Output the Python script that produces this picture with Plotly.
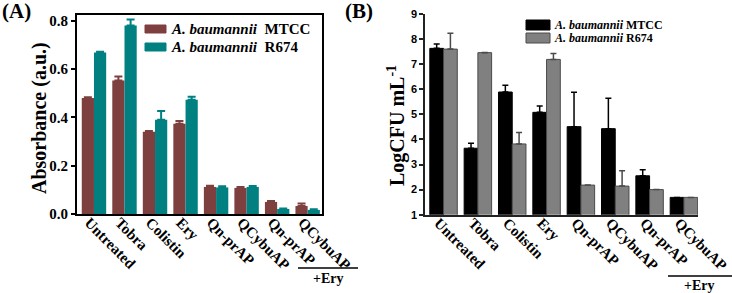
import plotly.graph_objects as go

# ---------------- data ----------------
categories = ["Untreated", "Tobra", "Colistin", "Ery", "Qn-prAP", "QCybuAP", "Qn-prAP", "QCybuAP"]
series_names = ["A. baumannii", "A. baumannii"]
strain_names = ["MTCC", "R674"]

# Panel A: absorbance (a.u.)
absorb_mtcc = [0.480, 0.553, 0.340, 0.373, 0.112, 0.108, 0.050, 0.033]
absorb_mtcc_err = [0.003, 0.016, 0.003, 0.012, 0.005, 0.004, 0.004, 0.010]
absorb_r674 = [0.668, 0.780, 0.390, 0.473, 0.110, 0.112, 0.021, 0.017]
absorb_r674_err = [0.004, 0.025, 0.036, 0.012, 0.005, 0.004, 0.002, 0.003]

# Panel B: LogCFU mL-1
cfu_mtcc = [7.63, 3.65, 5.89, 5.08, 4.51, 4.43, 2.55, 1.69]
cfu_mtcc_err = [0.17, 0.20, 0.27, 0.25, 1.37, 1.21, 0.24, 0.0]
cfu_r674 = [7.60, 7.46, 3.82, 7.19, 2.18, 2.14, 2.00, 1.69]
cfu_r674_err = [0.63, 0.01, 0.46, 0.24, 0.0, 0.61, 0.0, 0.0]

ticks_a = [0.0, 0.2, 0.4, 0.6, 0.8]
ticks_b = [1, 2, 3, 4, 5, 6, 7, 8, 9]
combo_label = "+Ery"

# ---------------- style ----------------
W, H = 732, 293
SERIF = "Liberation Serif, Times New Roman, serif"
SANS = "Liberation Sans, Arial, sans-serif"
BROWN = "#7e3f3f"
TEAL = "#008080"
BLACK = "#000000"
GRAY = "#808080"
GRAY_EDGE = "#4a4a4a"


def px(x):
    return x / W


def py(y):
    return 1 - y / H


xpos = list(range(len(categories)))

fig = go.Figure()

# Panel A bars
fig.add_trace(go.Bar(
    x=xpos, y=absorb_mtcc, name=f"{series_names[0]} {strain_names[0]}",
    marker=dict(color=BROWN, line=dict(width=0)),
    error_y=dict(type="data", array=absorb_mtcc_err, arrayminus=[0] * len(categories),
                 symmetric=False, color=BROWN, thickness=2, width=4),
    xaxis="x", yaxis="y", showlegend=False))
fig.add_trace(go.Bar(
    x=xpos, y=absorb_r674, name=f"{series_names[1]} {strain_names[1]}",
    marker=dict(color=TEAL, line=dict(width=0)),
    error_y=dict(type="data", array=absorb_r674_err, arrayminus=[0] * len(categories),
                 symmetric=False, color=TEAL, thickness=2, width=4),
    xaxis="x", yaxis="y", showlegend=False))

# Panel B bars
fig.add_trace(go.Bar(
    x=xpos, y=cfu_mtcc, name=f"{series_names[0]} {strain_names[0]}",
    marker=dict(color=BLACK, line=dict(width=1, color=BLACK)),
    error_y=dict(type="data", array=cfu_mtcc_err, arrayminus=[0] * len(categories),
                 symmetric=False, color=BLACK, thickness=1.5, width=3),
    xaxis="x2", yaxis="y2", showlegend=False))
fig.add_trace(go.Bar(
    x=xpos, y=cfu_r674, name=f"{series_names[1]} {strain_names[1]}",
    marker=dict(color=GRAY, line=dict(width=1, color=GRAY_EDGE)),
    error_y=dict(type="data", array=cfu_r674_err, arrayminus=[0] * len(categories),
                 symmetric=False, color=GRAY_EDGE, thickness=1.5, width=3),
    xaxis="x2", yaxis="y2", showlegend=False))

tickfont_x = dict(family=SERIF, size=15, color="black", weight="bold")

fig.update_layout(
    width=W, height=H,
    margin=dict(l=0, r=0, t=0, b=0, autoexpand=False),
    paper_bgcolor="white", plot_bgcolor="white",
    barmode="group", bargap=0.2, bargroupgap=0,
    showlegend=False,
    xaxis=dict(domain=[px(77), px(322)], range=[-0.556, 7.47], automargin=False,
               tickmode="array", tickvals=xpos, ticktext=categories, tickangle=45,
               tickfont=tickfont_x, showline=True, linewidth=2, linecolor="black",
               mirror=True, ticks="", showgrid=False, zeroline=False, anchor="y",
               ticklabelstandoff=-8, ticklabelshift=-5, ticklabeloverflow="allow"),
    yaxis=dict(domain=[py(214), py(15)], range=[0, 0.8236], automargin=False,
               tickmode="array", tickvals=ticks_a, ticktext=[f"{t:.1f}" for t in ticks_a],
               tickfont=dict(family=SERIF, size=15, color="black", weight="bold"),
               showline=True, linewidth=2, linecolor="black", mirror=True,
               ticks="outside", ticklen=4, tickwidth=2, tickcolor="black",
               showgrid=False, zeroline=False, anchor="x"),
    xaxis2=dict(domain=[px(425), px(698)], range=[-0.54, 7.41], automargin=False,
                tickmode="array", tickvals=xpos, ticktext=categories, tickangle=45,
                tickfont=tickfont_x, showline=True, linewidth=1.5, linecolor="#222222",
                ticks="", showgrid=False, zeroline=False, anchor="y2",
                ticklabelstandoff=-8, ticklabelshift=-5, ticklabeloverflow="allow"),
    yaxis2=dict(domain=[py(214.7), py(14)], range=[1, 9], automargin=False,
                tickmode="array", tickvals=ticks_b, ticktext=[str(t) for t in ticks_b],
                tickfont=dict(family=SANS, size=11, color="black", weight="bold"),
                showline=True, linewidth=1.5, linecolor="#222222",
                ticks="outside", ticklen=4, tickwidth=1.5, tickcolor="#222222",
                showgrid=False, zeroline=False, anchor="x2"),
)

shapes = []
annotations = []


def note(text, x, y, size, angle=0, family=SERIF, xanchor="center"):
    annotations.append(dict(text=text, x=px(x), y=py(y), xref="paper", yref="paper",
                            xanchor=xanchor, yanchor="middle", showarrow=False,
                            textangle=angle, font=dict(family=family, size=size, color="black")))


# panel letters
note("<b>(A)</b>", 16, 11, 21)
note("<b>(B)</b>", 359, 11, 21)

# y axis titles
note("<b>Absorbance (a.u.)</b>", 39, 118, 20, angle=-90)
note("<b>LogCFU mL<sup>-1</sup></b>", 397, 126, 20, angle=-90)

# "+Ery" brackets
for (x0, x1, yl, xt, yt) in [(298, 358, 268, 328, 278), (668, 732, 276, 699, 285)]:
    shapes.append(dict(type="line", xref="paper", yref="paper", x0=px(x0), x1=px(x1),
                       y0=py(yl), y1=py(yl), line=dict(color="black", width=1.5)))
    note(f"<b>{combo_label}</b>", xt, yt, 14)

# manual legends
legend_specs = [
    (145, 166, 4, [29, 47], [BROWN, TEAL], [BROWN, TEAL], 169, 15, "\u00a0\u00a0"),
    (526, 550, 5, [25, 38], [BLACK, GRAY], [BLACK, GRAY_EDGE], 552, 12, " "),
]
for (sx0, sx1, hh, rows, cols, edges, tx, fs, sep) in legend_specs:
    for i, yc in enumerate(rows):
        shapes.append(dict(type="rect", xref="paper", yref="paper",
                           x0=px(sx0), x1=px(sx1), y0=py(yc - hh), y1=py(yc + hh),
                           fillcolor=cols[i], line=dict(color=edges[i], width=1)))
        note(f"<b><i>{series_names[i]}</i>{sep}{strain_names[i]}</b>", tx, yc, fs,
             xanchor="left")

fig.update_layout(shapes=shapes, annotations=annotations)

fig.write_html("out.html", config={"displayModeBar": False},
               post_script="document.body.style.margin='0';document.body.style.overflow='hidden';")
